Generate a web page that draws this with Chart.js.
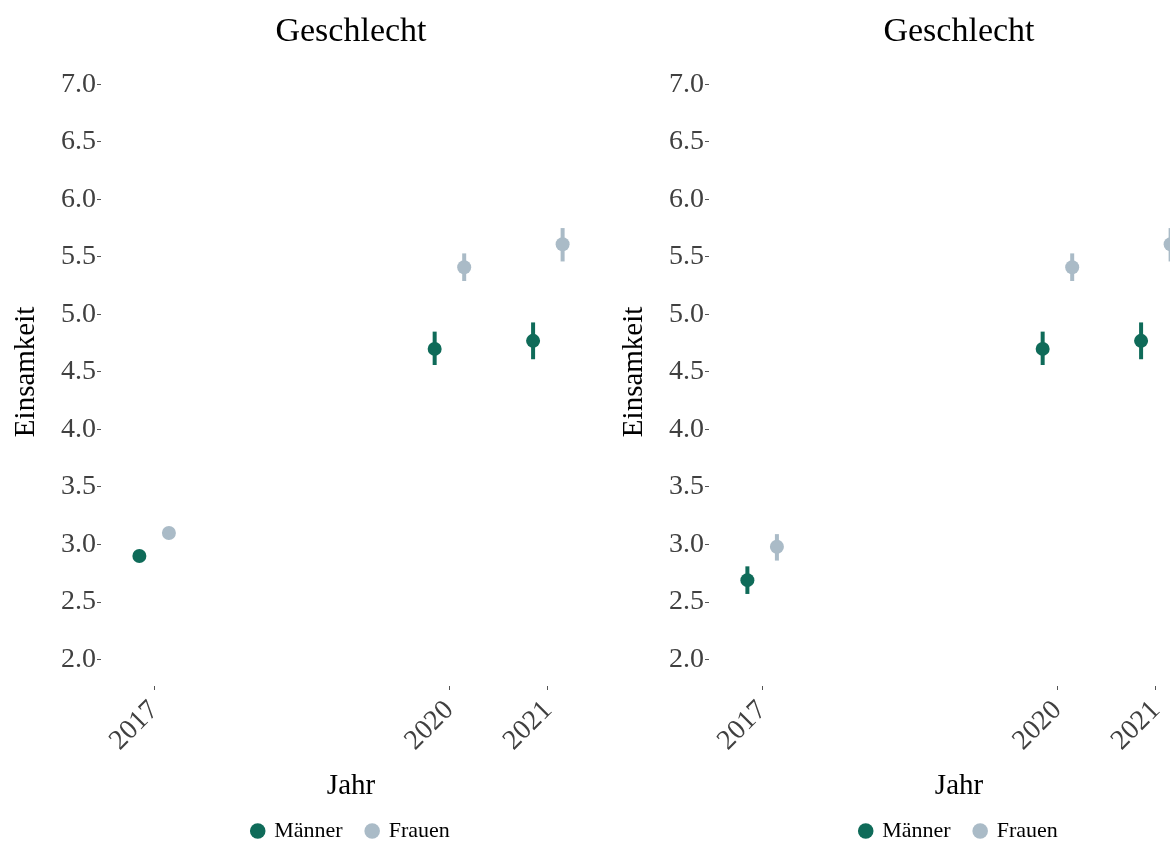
<!DOCTYPE html>
<html>
<head>
<meta charset="utf-8">
<script src="https://cdn.jsdelivr.net/npm/chart.js@4"></script>
<style>
  html, body { margin: 0; padding: 0; background: #fff; width: 1170px; height: 848px; overflow: hidden; }
  .panel { position: absolute; top: 0; width: 608px; height: 848px; }
  #p1 { left: 0; }
  #p2 { left: 608px; }
</style>
</head>
<body>
<div class="panel" id="p1"><canvas id="c1" width="608" height="848"></canvas></div>
<div class="panel" id="p2"><canvas id="c2" width="608" height="848"></canvas></div>
<script>
// Jahre und Achsenbeschriftungen
const jahre = [2017, 2020, 2021];
const yTicks = [2.0, 2.5, 3.0, 3.5, 4.0, 4.5, 5.0, 5.5, 6.0, 6.5, 7.0];

// Linkes Panel
const links_maenner = [2.90, 4.70, 4.77];
const links_maennerLo = [2.88, 4.56, 4.61];
const links_maennerHi = [2.92, 4.85, 4.93];
const links_frauen = [3.10, 5.41, 5.61];
const links_frauenLo = [3.08, 5.29, 5.46];
const links_frauenHi = [3.12, 5.53, 5.75];

// Rechtes Panel
const rechts_maenner = [2.69, 4.70, 4.77];
const rechts_maennerLo = [2.57, 4.56, 4.61];
const rechts_maennerHi = [2.81, 4.85, 4.93];
const rechts_frauen = [2.98, 5.41, 5.61];
const rechts_frauenLo = [2.86, 5.29, 5.46];
const rechts_frauenHi = [3.09, 5.53, 5.75];

const farbeM = '#0F6B59';
const farbeF = '#AABBC7';
const dodge = 0.15;
const serif = "'Liberation Serif', 'DejaVu Serif', serif";

// Fehlerbalken über die Skalen zeichnen
const errorBars = {
    id: 'errorBars',
    beforeDatasetsDraw(chart) {
        const { ctx, scales: { x, y } } = chart;
        chart.data.datasets.forEach(ds => {
            ctx.save();
            ctx.strokeStyle = ds.backgroundColor;
            ctx.lineWidth = 4;
            ctx.lineCap = 'butt';
            ds.data.forEach(p => {
                const px = x.getPixelForValue(p.x);
                ctx.beginPath();
                ctx.moveTo(px, y.getPixelForValue(p.lo));
                ctx.lineTo(px, y.getPixelForValue(p.hi));
                ctx.stroke();
            });
            ctx.restore();
        });
    }
};

function punkte(werte, lo, hi, versatz) {
    return jahre.map((j, i) => ({ x: j + versatz, y: werte[i], lo: lo[i], hi: hi[i] }));
}

function createChart(id, m, mLo, mHi, f, fLo, fHi) {
    const ctx = document.getElementById(id).getContext('2d');
    return new Chart(ctx, {
        type: 'scatter',
        data: {
            datasets: [{
                label: 'Männer',
                data: punkte(m, mLo, mHi, -dodge),
                backgroundColor: farbeM,
                borderColor: farbeM,
                pointRadius: 7,
                pointHoverRadius: 7,
                borderWidth: 0
            }, {
                label: 'Frauen',
                data: punkte(f, fLo, fHi, dodge),
                backgroundColor: farbeF,
                borderColor: farbeF,
                pointRadius: 7,
                pointHoverRadius: 7,
                borderWidth: 0
            }]
        },
        options: {
            responsive: false,
            animation: false,
            layout: { padding: { top: 0, left: 0, right: 0, bottom: -4 } },
            plugins: {
                tooltip: { enabled: false },
                title: {
                    display: true,
                    text: 'Geschlecht',
                    fullSize: false,
                    color: '#000',
                    font: { family: serif, size: 34, weight: 'normal' },
                    padding: { top: 12, bottom: 5 }
                },
                legend: {
                    position: 'bottom',
                    fullSize: false,
                    labels: {
                        usePointStyle: true,
                        pointStyle: 'circle',
                        boxWidth: 11,
                        boxHeight: 11,
                        padding: 24,
                        color: '#000',
                        font: { family: serif, size: 22 }
                    }
                }
            },
            scales: {
                x: {
                    type: 'linear',
                    min: 2016.46,
                    max: 2021.54,
                    afterBuildTicks: s => { s.ticks = jahre.map(v => ({ value: v })); },
                    afterFit: s => { s.height = 110; },
                    border: { display: false },
                    grid: { drawOnChartArea: false, drawTicks: true, tickLength: 4, color: '#555' },
                    ticks: {
                        autoSkip: false,
                        minRotation: 45,
                        maxRotation: 45,
                        padding: 4,
                        color: '#404040',
                        font: { family: serif, size: 28 },
                        callback: v => String(v)
                    },
                    title: {
                        display: true,
                        text: 'Jahr',
                        color: '#000',
                        font: { family: serif, size: 29 },
                        padding: { top: 0, bottom: -8 }
                    }
                },
                y: {
                    min: 1.77,
                    max: 7.23,
                    afterBuildTicks: s => { s.ticks = yTicks.map(v => ({ value: v })); },
                    afterFit: s => { s.width = 101; },
                    border: { display: false },
                    grid: { drawOnChartArea: false, drawTicks: true, tickLength: 4, color: '#555' },
                    ticks: {
                        padding: 1,
                        color: '#404040',
                        font: { family: serif, size: 28 },
                        callback: v => Number(v).toFixed(1)
                    },
                    title: {
                        display: true,
                        text: 'Einsamkeit',
                        color: '#000',
                        font: { family: serif, size: 29 },
                        padding: { top: 9, bottom: 0 }
                    }
                }
            }
        },
        plugins: [errorBars]
    });
}

createChart('c1', links_maenner, links_maennerLo, links_maennerHi, links_frauen, links_frauenLo, links_frauenHi);
createChart('c2', rechts_maenner, rechts_maennerLo, rechts_maennerHi, rechts_frauen, rechts_frauenLo, rechts_frauenHi);
</script>
</body>
</html>
